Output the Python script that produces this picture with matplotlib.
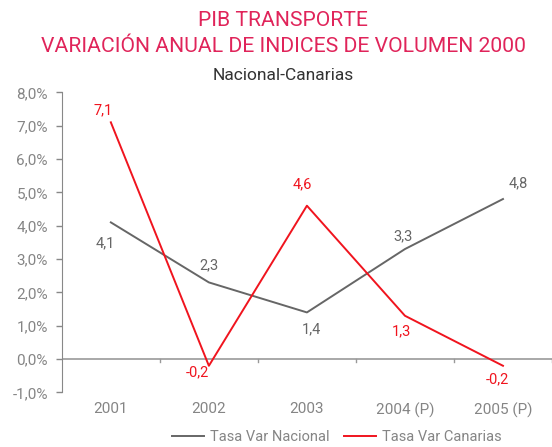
import matplotlib
matplotlib.use('Agg')
import matplotlib.pyplot as plt
from matplotlib.ticker import FuncFormatter
import numpy as np

# datos
years = ['2001', '2002', '2003', '2004 (P)', '2005 (P)']
nacional = [4.1, 2.3, 1.4, 3.3, 4.8]
canarias = [7.1, -0.2, 4.6, 1.3, -0.2]

# desplazamiento de etiquetas (px)
off_nac = [(-6, -21), (0, 17), (5, -17), (-2, 13), (15, 16)]
off_can = [(-8, 12), (-12, -7), (-5, 21), (-3, -16), (-6, -14)]

gris = '#666666'
rojo = '#f0141e'
titulo_col = '#e0245a'
texto_gris = '#858585'

plt.rcParams['font.family'] = ['Roboto', 'DejaVu Sans']

fig = plt.figure(figsize=(5.52, 4.47), dpi=100)
ax = fig.add_axes([0.112, 0.122, 0.888, 0.6715])

x = np.arange(len(years))
ax.plot(x, nacional, color=gris, lw=1.4, label='Tasa Var Nacional')
ax.plot(x, canarias, color=rojo, lw=1.4, label='Tasa Var Canarias')

for i in range(len(x)):
    ax.annotate(f'{nacional[i]:.1f}'.replace('.', ','), (x[i], nacional[i]),
                xytext=off_nac[i], textcoords='offset pixels',
                ha='center', va='center', fontsize=10.5, color=gris)
    ax.annotate(f'{canarias[i]:.1f}'.replace('.', ','), (x[i], canarias[i]),
                xytext=off_can[i], textcoords='offset pixels',
                ha='center', va='center', fontsize=10.5, color=rojo)

ax.set_xlim(-0.5, 4.5)
ax.set_ylim(-1, 8)
ax.set_yticks(np.arange(-1, 9, 1))
ax.yaxis.set_major_formatter(FuncFormatter(lambda v, p: f'{v:.1f}%'.replace('.', ',')))

ax.set_xticks(x)
ax.set_xticklabels(years)
ax.tick_params(axis='x', length=0, pad=7, labelsize=11, labelcolor=texto_gris)
ax.tick_params(axis='y', length=4, width=1, color='#888888', labelsize=11,
               labelcolor=texto_gris, pad=6)

for s in ['top', 'right', 'bottom']:
    ax.spines[s].set_visible(False)
ax.spines['left'].set_color('#888888')

# línea del cero con marcas
ax.axhline(0, color='#999999', lw=1.2, zorder=1)
for b in np.arange(0.5, 4.6, 1):
    ax.plot([b, b], [0, -0.1], color='#999999', lw=1, zorder=1, clip_on=False)

fig.text(0.513, 1 - 21 / 447, 'PIB TRANSPORTE', ha='center', va='center',
         fontsize=15.2, color=titulo_col)
fig.text(0.513, 1 - 47 / 447, 'VARIACIÓN ANUAL DE INDICES DE VOLUMEN 2000',
         ha='center', va='center', fontsize=15.2, color=titulo_col)
fig.text(0.513, 1 - 76 / 447, 'Nacional-Canarias', ha='center', va='center',
         fontsize=12.5, color='#333333')

fig.legend(loc='center', bbox_to_anchor=(0.61, 0.022), ncol=2, frameon=False,
           fontsize=10.5, labelcolor=texto_gris, handlelength=2.2,
           handletextpad=0.4, columnspacing=1.0, borderpad=0.2)

fig.savefig('out.png', dpi=100)
